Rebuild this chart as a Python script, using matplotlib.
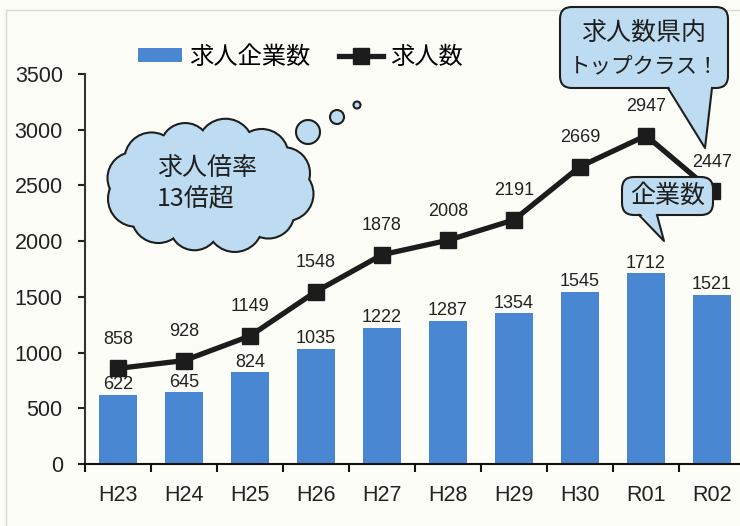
import matplotlib
matplotlib.use("Agg")
import matplotlib.pyplot as plt
from matplotlib import patches
import numpy as np

# data
years = ["H23", "H24", "H25", "H26", "H27", "H28", "H29", "H30", "R01", "R02"]
companies = [622, 645, 824, 1035, 1222, 1287, 1354, 1545, 1712, 1521]   # 求人企業数
openings = [858, 928, 1149, 1548, 1878, 2008, 2191, 2669, 2947, 2447]   # 求人数

plt.rcParams['font.family'] = ['Liberation Sans', 'Noto Sans CJK JP', 'DejaVu Sans']
JP = ['Noto Sans CJK JP', 'DejaVu Sans']

BAR = '#4987d2'
LINE = '#1c1c1c'
BUBBLE = '#bddcf1'
EDGE = '#1e1e1e'
BG = '#fdfdf7'

W, H = 740, 526
fig = plt.figure(figsize=(W / 100, H / 100), dpi=100, facecolor=BG)

# main axes in pixel terms: left spine at x=85, zero at y=464, 3500 at y=74
ax = fig.add_axes([85 / W, (H - 464) / H, 660 / W, 390 / H])
ax.set_facecolor('none')

x = np.arange(len(years))
bars = ax.bar(x, companies, width=0.58, color=BAR, zorder=2, label='求人企業数')
line, = ax.plot(x, openings, color=LINE, lw=3.8, marker='s', ms=11.5,
                mfc=LINE, mec=LINE, zorder=3, label='求人数')

for xi, v in zip(x, companies):
    ax.annotate(str(v), (xi, v), xytext=(0, 1), textcoords='offset points',
                ha='center', va='bottom', fontsize=13, color='#222')
for xi, v in zip(x, openings):
    ax.annotate(str(v), (xi, v), xytext=(0, 21), textcoords='offset points',
                ha='center', va='center', fontsize=13, color='#222')

ax.set_xlim(-0.5, len(years) - 0.5)
ax.set_ylim(0, 3500)
ax.set_yticks(np.arange(0, 3501, 500))
ax.set_xticks(x)
ax.set_xticklabels(years)
ax.set_xticks(np.arange(-0.5, len(years), 1.0), minor=True)
ax.tick_params(axis='x', which='major', length=0, pad=15, labelsize=15.5, colors='#222')
ax.tick_params(axis='x', which='minor', length=6, width=1.5, direction='out', color='#111')
ax.tick_params(axis='y', length=5, width=1.5, pad=11, labelsize=15.5, colors='#222')

for s in ['top', 'right']:
    ax.spines[s].set_visible(False)
ax.spines['left'].set_color('#333')
ax.spines['left'].set_linewidth(1.5)
ax.spines['bottom'].set_color('#111')
ax.spines['bottom'].set_linewidth(1.5)

ax.legend(handles=[bars, line], loc='center left', bbox_to_anchor=(138 / W, 1 - 57 / H),
          bbox_transform=fig.transFigure, ncol=2, frameon=False, borderpad=0,
          borderaxespad=0, handlelength=1.8, handleheight=0.5, handletextpad=0.3,
          columnspacing=1.2, prop={'family': JP, 'size': 17.5})

# overlay in pixel coordinates for the callouts
ov = fig.add_axes([0, 0, 1, 1], zorder=5)
ov.set_xlim(0, W)
ov.set_ylim(H, 0)
ov.axis('off')
ov.patch.set_alpha(0)

# faint scan frame
ov.plot([6, 6, 740], [526, 10, 10], color='#d8d8d8', lw=1)

# thought cloud
cx, cy, a, b = 210, 186, 78, 40
angs = np.linspace(0, 2 * np.pi, 12, endpoint=False) + 0.2
radii = [26, 25, 27, 24, 26, 27, 25, 26, 24, 27, 26, 25]
for layer in (0, 1):
    for t, r in zip(angs, radii):
        c = patches.Circle((cx + a * np.cos(t), cy + b * np.sin(t)), r,
                           fc=BUBBLE, ec=EDGE if layer == 0 else 'none',
                           lw=3 if layer == 0 else 0, zorder=1 + layer)
        ov.add_patch(c)
ov.add_patch(patches.Ellipse((cx, cy), 2 * a + 10, 2 * b + 10, fc=BUBBLE, ec='none', zorder=3))
for (bx, by, br) in [(308, 132, 12), (337, 117, 7), (357, 105, 3.5)]:
    ov.add_patch(patches.Circle((bx, by), br, fc=BUBBLE, ec=EDGE, lw=1.5, zorder=4))
ov.text(157, 168, '求人倍率', family=JP, fontsize=18, ha='left', va='center', color=EDGE, zorder=5)
ov.text(157, 199, '13倍超', family=JP, fontsize=18, ha='left', va='center', color=EDGE, zorder=5)


def callout(x0, y0, w, h, tail, text, lines_y, sizes):
    box = patches.FancyBboxPatch((x0, y0), w, h, boxstyle='round,pad=0,rounding_size=12',
                                 fc=BUBBLE, ec=EDGE, lw=1.5, zorder=6)
    ov.add_patch(box)
    (bl, tip, br) = tail
    ov.add_patch(patches.Polygon([(bl[0], bl[1] - 3), tip, (br[0], br[1] - 3)],
                                 closed=True, fc=BUBBLE, ec='none', zorder=7))
    ov.plot([bl[0], tip[0], br[0]], [bl[1], tip[1], br[1]], color=EDGE, lw=1.5, zorder=8)
    for t, ty, fs in zip(text, lines_y, sizes):
        ov.text(x0 + w / 2, ty, t, family=JP, fontsize=fs, ha='center', va='center',
                color=EDGE, zorder=9)


callout(560, 7, 168, 81, [(668, 88), (705, 148), (712, 88)],
        ['求人数県内', 'トップクラス！'], [33, 67], [18, 15.5])
callout(622, 177, 91, 38, [(639, 215), (664, 241), (657, 215)],
        ['企業数'], [196], [18])

fig.savefig('out.png', dpi=100, facecolor=BG)
